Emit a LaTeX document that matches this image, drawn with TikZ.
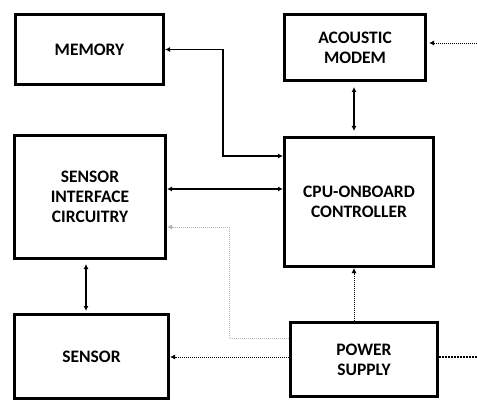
\documentclass[tikz,border=0pt]{standalone}
\usepackage{fontspec}
\setmainfont{Carlito}
\usepackage{tikz}
\usetikzlibrary{arrows.meta}

\tikzset{
    blk/.style={draw, line width=3pt, align=center, inner sep=0pt,
        font=\fontsize{17.5}{20}\selectfont\bfseries},
    bus/.style={{Latex[length=5pt, width=5pt]}-{Latex[length=5pt, width=5pt]}, line width=1.3pt},
    feed/.style={-{Latex[length=5pt, width=5pt]}, dash pattern=on 1pt off 1pt, line width=0.9pt}
}

\begin{document}
\begin{tikzpicture}[x=1pt, y=-1pt]
    \useasboundingbox (0,0) rectangle (477,401);

    \node[blk, minimum width=148pt, minimum height=70pt] (mem) at (89.5,49.5) {MEMORY};
    \node[blk, minimum width=141pt, minimum height=66pt] (modem) at (355,47.5) {ACOUSTIC\\MODEM};
    \node[blk, minimum width=151pt, minimum height=123pt] (sif) at (90,197) {SENSOR\\INTERFACE\\CIRCUITRY};
    \node[blk, minimum width=149pt, minimum height=129pt] (cpu) at (359,202) {CPU-ONBOARD\\CONTROLLER};
    \node[blk, minimum width=154pt, minimum height=84pt] (sensor) at (91.5,356.5) {SENSOR};
    \node[blk, minimum width=147pt, minimum height=74pt] (psu) at (364,359.5) {POWER\\SUPPLY};

    \coordinate (memknee) at (223,156);
    \coordinate (sifcpu) at (0,189);
    \coordinate (modemin) at (477,43);
    \coordinate (pk1) at (229,338);
    \coordinate (pk2) at (229,227);
    \coordinate (pwrout) at (477,357);

    % data paths
    \draw[bus] (mem.east) -| (memknee) -- (memknee -| cpu.west);
    \draw[bus] (sifcpu -| sif.east) -- (sifcpu -| cpu.west);
    \draw[bus, shorten <=5pt, shorten >=5pt] (modem.south -| 354,0) -- (cpu.north -| 354,0);
    \draw[bus, shorten <=4pt, shorten >=2pt] (sif.south -| 86,0) -- (sensor.north -| 86,0);

    % power and outside links
    \draw[feed, shorten >=2pt] (modemin) -- (modemin -| modem.east);
    \draw[feed, gray!60] (pk1 -| psu.west) -- (pk1) -- (pk2) -- (pk2 -| sif.east);
    \draw[feed] (psu.west |- pwrout) -- (sensor.east |- pwrout);
    \draw[feed] (psu.north -| 354,0) -- (cpu.south -| 354,0);
    \draw[dash pattern=on 1.5pt off 1.5pt, line width=1.6pt] (psu.east |- pwrout) -- (pwrout);
\end{tikzpicture}
\end{document}
